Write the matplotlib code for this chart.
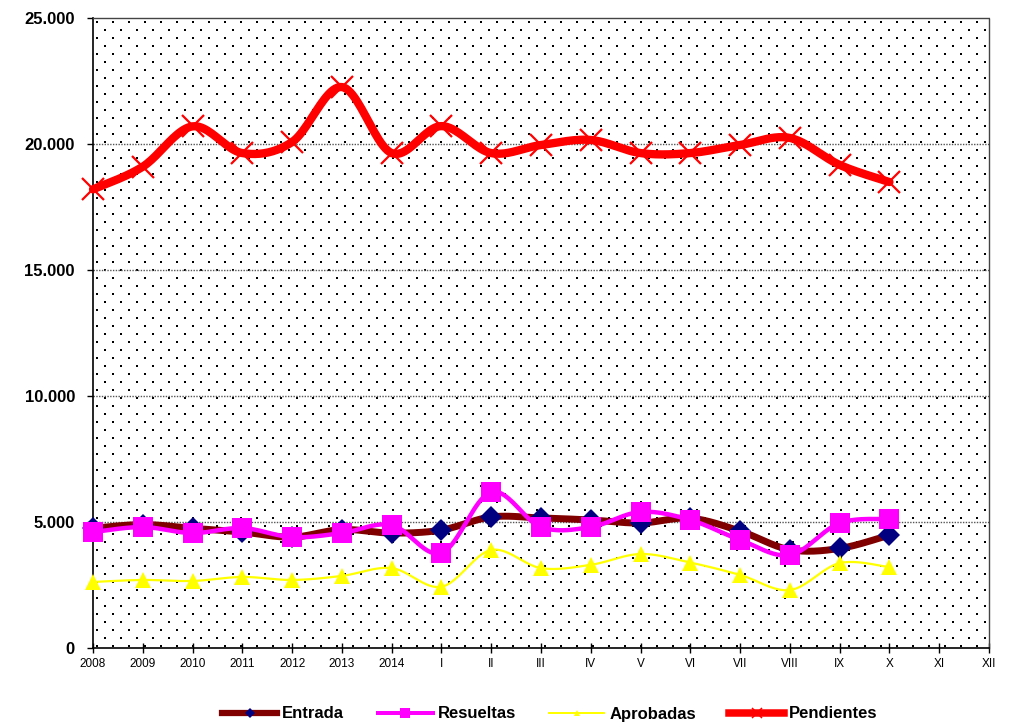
import numpy as np
import matplotlib
matplotlib.use('Agg')
import matplotlib.pyplot as plt
from matplotlib.lines import Line2D
from matplotlib.ticker import FuncFormatter

plt.rcParams['font.family'] = ['Liberation Sans', 'DejaVu Sans']

categories = ['2008', '2009', '2010', '2011', '2012', '2013', '2014',
              'I', 'II', 'III', 'IV', 'V', 'VI', 'VII', 'VIII', 'IX', 'X', 'XI', 'XII']
entrada = [4750, 4900, 4750, 4600, 4400, 4700, 4560, 4680, 5200, 5160, 5080,
           4960, 5150, 4640, 3900, 3950, 4480]
resueltas = [4600, 4800, 4560, 4760, 4400, 4560, 4880, 3770, 6190, 4800, 4800,
             5400, 5080, 4290, 3690, 4960, 5120]
aprobadas = [2620, 2700, 2660, 2820, 2700, 2860, 3170, 2430, 3890, 3170, 3300,
             3730, 3390, 2900, 2300, 3370, 3210]
pendientes = [18200, 19100, 20700, 19640, 20080, 22260, 19640, 20710, 19640,
              19960, 20160, 19640, 19640, 19960, 20240, 19170, 18490]
series_names = ['Entrada', 'Resueltas', 'Aprobadas', 'Pendientes']
yticks = [0, 5000, 10000, 15000, 20000, 25000]

W, H = 1014, 725
fig = plt.figure(figsize=(W / 100, H / 100), dpi=100)
L, R, T, B = 93, 989, 18, 648
ax = fig.add_axes([L / W, 1 - B / H, (R - L) / W, (B - T) / H])
ax.patch.set_alpha(0)
ax.set_zorder(2)

# dotted background texture (staggered dot pattern)
pw, ph = R - L, B - T
pat = np.ones((ph, pw, 3))
for yy in range(3, ph, 8):
    off = 3 if ((yy - 3) // 8) % 2 == 0 else 11
    for xx in range(off, pw, 16):
        pat[yy:yy + 2, xx:xx + 2] = 0
fig.figimage(pat, xo=L, yo=H - B, zorder=0)


def smooth(vals, n=24):
    x = np.arange(len(vals), dtype=float)
    P = np.column_stack([x, np.asarray(vals, dtype=float)])
    out = [P[0]]
    t = np.linspace(0, 1, n)[1:, None]
    for i in range(len(P) - 1):
        p0 = P[i - 1] if i > 0 else P[i]
        p3 = P[i + 2] if i + 2 < len(P) else P[i + 1]
        b0, b3 = P[i], P[i + 1]
        b1 = b0 + (b3 - p0) / 6
        b2 = b3 - (p3 - b0) / 6
        seg = ((1 - t) ** 3) * b0 + 3 * ((1 - t) ** 2) * t * b1 + 3 * (1 - t) * t ** 2 * b2 + t ** 3 * b3
        out.extend(seg)
    out = np.array(out)
    return out[:, 0], out[:, 1]


styles = [
    dict(color='#800000', lw=5, marker='D', mfc='#000080', mec='#000080', ms=11, mew=0),
    dict(color='#FF00FF', lw=3.2, marker='s', mfc='#FF00FF', mec='#FF00FF', ms=14.5, mew=0),
    dict(color='#FFFF00', lw=1.6, marker='^', mfc='#FFFF00', mec='#FFFF00', ms=11, mew=0),
    dict(color='#FF0000', lw=6, marker='x', mfc='#FF0000', mec='#FF0000', ms=16, mew=1.6),
]
data = [entrada, resueltas, aprobadas, pendientes]
handles = []
for k, (vals, st) in enumerate(zip(data, styles)):
    sx, sy = smooth(vals)
    ax.plot(sx, sy, color=st['color'], lw=st['lw'], solid_capstyle='round',
            solid_joinstyle='round', zorder=3 + 2 * k, clip_on=False)
    ax.plot(np.arange(len(vals)), vals, ls='none', marker=st['marker'],
            mfc=st['mfc'], mec=st['mec'], ms=st['ms'], mew=st['mew'],
            zorder=4 + 2 * k, clip_on=False)
    handles.append(Line2D([0], [0], color=st['color'], lw=st['lw'] * 0.9,
                          marker=st['marker'], mfc=st['mfc'], mec=st['mec'],
                          ms=st['ms'] * 0.45, mew=st['mew'] * 0.7))

ax.set_xlim(0, len(categories) - 1)
ax.set_ylim(0, 25000)
ax.set_xticks(range(len(categories)))
ax.set_xticklabels(categories, fontsize=8.5)
ax.set_yticks(yticks)
ax.yaxis.set_major_formatter(FuncFormatter(lambda v, p: f"{int(v):,}".replace(',', '.')))
for lab in ax.get_yticklabels():
    lab.set_fontweight('bold')
    lab.set_fontsize(12)
ax.tick_params(axis='x', direction='inout', length=7, width=1, pad=4)
ax.tick_params(axis='y', direction='out', length=4, width=1, pad=9)

for yv in yticks[1:-1]:
    ax.axhline(yv, color='#555555', lw=1, ls=(0, (1, 1)), zorder=1)
for s in ['top', 'right']:
    ax.spines[s].set_linestyle((0, (1, 1)))
    ax.spines[s].set_color('#444444')
    ax.spines[s].set_linewidth(1)
for s in ['left', 'bottom']:
    ax.spines[s].set_color('black')
    ax.spines[s].set_linewidth(1.2)

fig.legend(handles, series_names, loc='center', bbox_to_anchor=(550 / W, 1 - 714 / H),
           ncol=4, frameon=False, prop=dict(weight='bold', size=12),
           handlelength=3.3, handletextpad=0.3, columnspacing=2.0)

fig.savefig('out.png', dpi=100)
